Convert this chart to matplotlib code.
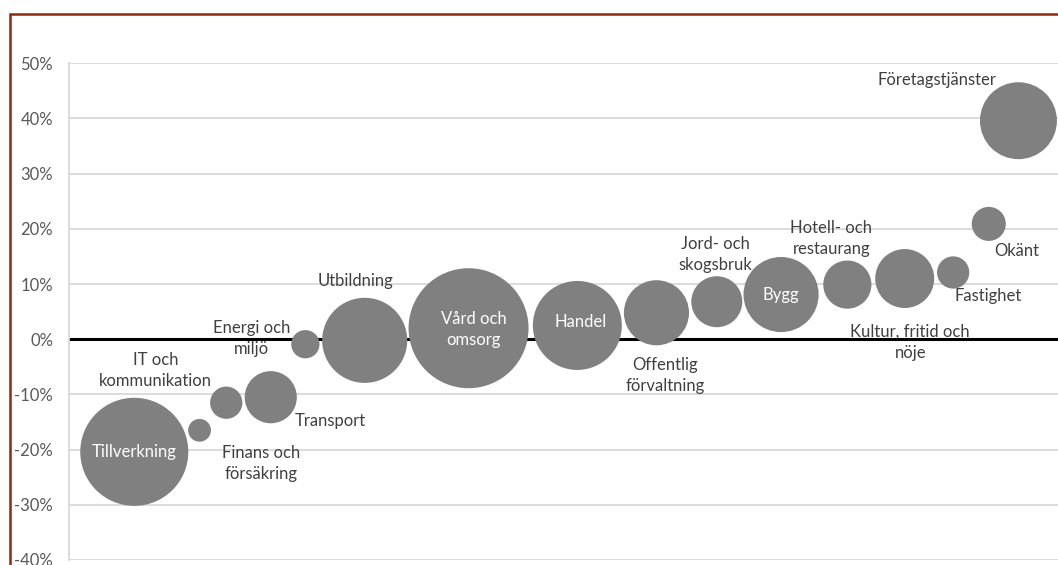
import matplotlib
matplotlib.use('Agg')
import matplotlib.pyplot as plt
from matplotlib.patches import Rectangle
from matplotlib.ticker import FuncFormatter

plt.rcParams['font.family'] = ['Lato', 'DejaVu Sans']

# branscher (x = position, y = förändring i %, storlek = bubbelstorlek)
branscher = ['Tillverkning', 'Finans och\nförsäkring', 'IT och\nkommunikation', 'Transport',
             'Energi och\nmiljö', 'Utbildning', 'Vård och\nomsorg', 'Handel',
             'Offentlig\nförvaltning', 'Jord- och\nskogsbruk', 'Bygg', 'Hotell- och\nrestaurang',
             'Kultur, fritid och\nnöje', 'Fastighet', 'Okänt', 'Företagstjänster']
x_varden = [6.6, 13.2, 15.9, 20.4, 23.9, 29.9, 40.4, 51.4, 59.4, 65.5, 72.0, 78.7, 84.5, 89.4, 93.0, 96.0]
forandring = [-20.4, -16.5, -11.5, -10.5, -0.9, -0.2, 2.0, 2.5, 4.8, 6.8, 8.1, 9.9, 11.0, 12.1, 20.9, 39.6]
storlek = [292, 13, 26, 68, 20, 181, 360, 198, 106, 65, 141, 58, 87, 26, 29, 148]
y_ticks = [-40, -30, -20, -10, 0, 10, 20, 30, 40, 50]

# etikettplacering (offset i pixlar, vit text inne i bubblan)
offset_px = [(0, 0), (62, -33.5), (-71, 32), (60, -24), (-54, 6), (-9.5, 59.5), (5, -1), (3, 3.5),
             (8.5, -62.5), (-1.5, 47.5), (0, 0), (-16, 46.5), (5.5, -63.5), (35, -24), (28, -27),
             (-81.5, 40.5)]
inne = ['Tillverkning', 'Vård och\nomsorg', 'Handel', 'Bygg']

W, H = 1058, 565
fig = plt.figure(figsize=(W / 100, H / 100), dpi=100)
ax = fig.add_axes([69 / W, 1 - 560 / H, 1 - 69 / W, (560 - 63.3) / H])

s = [v * 20.736 for v in storlek]
ax.scatter(x_varden, forandring, s=s, color='#808080', linewidths=0, zorder=3)

for namn, x, y, (dx, dy) in zip(branscher, x_varden, forandring, offset_px):
    farg = 'white' if namn in inne else '#404040'
    ax.annotate(namn, (x, y), xytext=(dx * 0.72, dy * 0.72), textcoords='offset points',
                ha='center', va='center', fontsize=12, color=farg, linespacing=1.4, zorder=4)

ax.set_xlim(0, 100)
ax.set_ylim(-40, 50)
ax.set_yticks(y_ticks)
ax.yaxis.set_major_formatter(FuncFormatter(lambda v, p: f'{v:.0f}%'))
ax.tick_params(axis='y', length=0, pad=11.5, labelsize=12, labelcolor='#595959')
ax.set_xticks([])
ax.grid(axis='y', color='#d9d9d9', linewidth=1.3, zorder=0)
ax.axhline(0, color='black', linewidth=2.2, zorder=2)
for side in ['top', 'right', 'bottom']:
    ax.spines[side].set_visible(False)
ax.spines['left'].set_color('#d9d9d9')
ax.spines['left'].set_linewidth(1.3)

# ram runt diagrammet
fig.patches.append(Rectangle((9.5 / W, -0.1), 1.2, 1 - 13.5 / H + 0.1, transform=fig.transFigure,
                             fill=False, edgecolor='#8b2a10', linewidth=1.8))

fig.savefig('out.png', dpi=100)
